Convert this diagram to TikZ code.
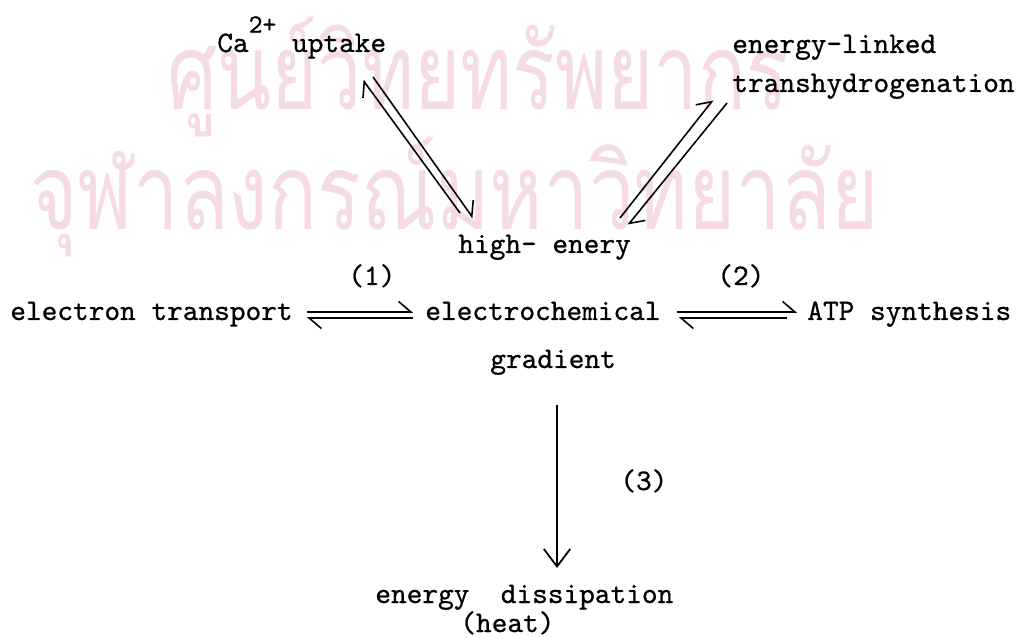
\documentclass[tikz,border=0pt]{standalone}
\usepackage{fontspec}
\newfontfamily\tw{lmmono10-regular.otf}[FakeBold=0.7]
\newfontfamily\thaifont[Script=Thai]{Loma}
\usetikzlibrary{arrows.meta,calc}
\definecolor{stamp}{RGB}{245,219,230}

\begin{document}
\begin{tikzpicture}[x=0.02cm, y=-0.02cm,
    lbl/.style={anchor=base west, inner sep=0pt, font=\tw\fontsize{17}{20}\selectfont},
    wmark/.style={anchor=base west, inner sep=0pt, text=stamp, font=\thaifont\fontsize{60}{60}\selectfont},
    eq/.style={line width=0.9pt, -{Straight Barb[left,length=7pt,width=12pt]}},
    down/.style={line width=1pt, -{Straight Barb[length=10pt,width=15pt]}}]
    \useasboundingbox (0,0) rectangle (1021,638);

    % Stamp in the background
    \node[wmark] (wm1) at (167,110) {\scalebox{0.75}[1]{ศูนย์วิทยทรัพยากร}};
    \node[wmark] (wm2) at (30,230) {\scalebox{0.77}[1]{จุฬาลงกรณ์มหาวิทยาลัย}};

    % Labels
    \node[lbl] (ca) at (217,52) {Ca\raisebox{11pt}{\fontsize{15}{17}\selectfont 2+} uptake};
    \node[lbl] (linked) at (732,53) {energy-linked};
    \node[lbl] (trans) at (732,92) {transhydrogenation};
    \node[lbl] (high) at (458,253) {high- enery};
    \node[lbl] (et) at (10,320) {electron transport};
    \node[lbl] (ec) at (425,320) {electrochemical};
    \node[lbl] (atp) at (807,320) {ATP synthesis};
    \node[lbl] (grad) at (490,368) {gradient};
    \node[lbl] (diss) at (375,603) {energy\ \ dissipation};
    \node[lbl] (heat) at (460,632) {(heat)};

    % Step numbers
    \node[lbl] (n1) at (348,285) {(1)};
    \node[lbl] (n2) at (717,285) {(2)};
    \node[lbl] (n3) at (620,490) {(3)};

    % Equilibrium arrows
    \draw[eq] ($(high.base west)+(2,-40)$) -- ($(ca.base west)+(146,28)$);
    \draw[eq] ($(ca.base west)+(156,25)$) -- ($(high.base west)+(15,-35)$);
    \draw[eq] ($(high.base west)+(162,-35)$) -- ($(trans.base west)+(-19,8)$);
    \draw[eq] ($(trans.base west)+(-5,11)$) -- ($(high.base west)+(170,-28)$);
    \draw[eq] ($(et.base east)+(14,-8)$) -- ($(ec.base west)+(-12,-8)$);
    \draw[eq] ($(ec.base west)+(-12,-2)$) -- ($(et.base east)+(14,-2)$);
    \draw[eq] ($(ec.base east)+(16,-8)$) -- ($(atp.base west)+(-10,-8)$);
    \draw[eq] ($(atp.base west)+(-20,-2)$) -- ($(ec.base east)+(18,-2)$);

    % Loss as heat
    \draw[down] ($(grad.base west)+(67,37)$) -- ($(diss.base west)+(182,-35)$);
\end{tikzpicture}
\end{document}
